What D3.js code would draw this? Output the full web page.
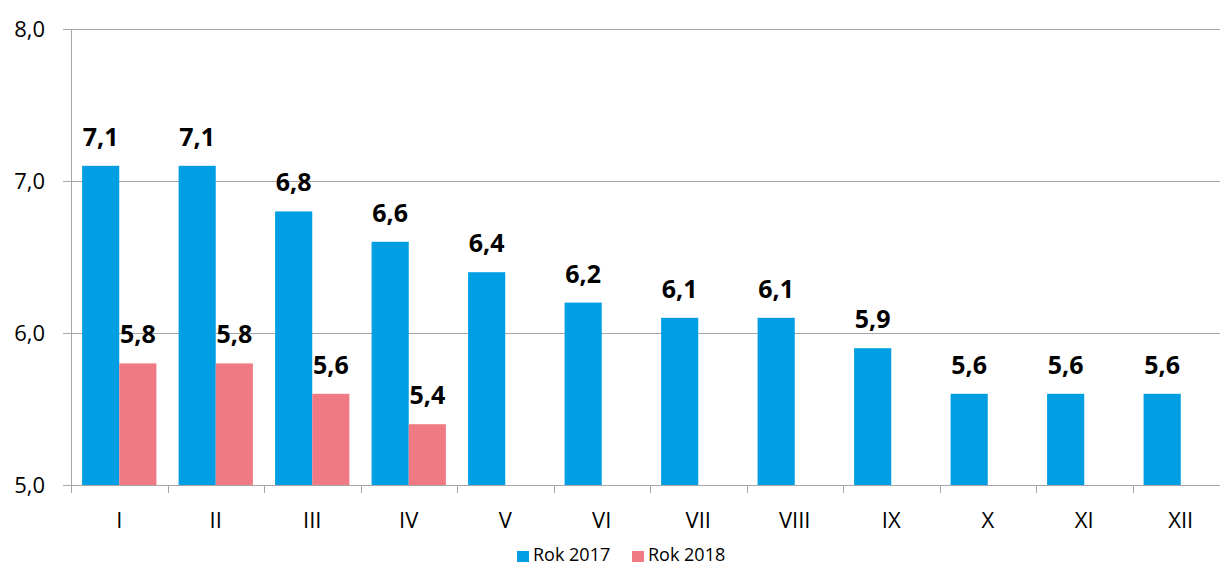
<!DOCTYPE html>
<html>
<head>
<meta charset="utf-8">
<script src="https://cdn.jsdelivr.net/npm/d3@7"></script>
<style>
  body { margin: 0; background: #fff; }
  text { font-family: "Open Sans", "DejaVu Sans", sans-serif; }
</style>
</head>
<body>
<div id="chart"></div>
<script>
// data
var months = ["I", "II", "III", "IV", "V", "VI", "VII", "VIII", "IX", "X", "XI", "XII"];
var rok2017 = [7.1, 7.1, 6.8, 6.6, 6.4, 6.2, 6.1, 6.1, 5.9, 5.6, 5.6, 5.6];
var rok2018 = [5.8, 5.8, 5.6, 5.4];
var seriesNames = ["Rok 2017", "Rok 2018"];
var yTicks = [5, 6, 7, 8];

var width = 1220, height = 568;
var colors = ["#009fe3", "#f07a83"];

var svg = d3.select("#chart")
  .append("svg")
  .attr("width", width)
  .attr("height", height);

//scales
var xScale = d3.scaleBand()
  .domain(months)
  .range([71, 1229])
  .paddingInner(0.23)
  .paddingOuter(0.115);

var xSub = d3.scaleBand()
  .domain([0, 1])
  .range([0, xScale.bandwidth()]);

var yScale = d3.scaleLinear()
  .domain([5, 8])
  .range([485, 29]);

var fmt = function(v) { return d3.format(".1f")(v).replace(".", ","); };

// gridlines
svg.append("g")
  .selectAll("line")
  .data(yTicks)
  .enter()
  .append("line")
  .attr("x1", 63)
  .attr("x2", width)
  .attr("y1", d => yScale(d) + 0.5)
  .attr("y2", d => yScale(d) + 0.5)
  .attr("stroke", "#a6a6a6")
  .attr("stroke-width", 1);

// y axis labels
svg.append("g")
  .selectAll("text")
  .data(yTicks)
  .enter()
  .append("text")
  .attr("x", 45)
  .attr("y", d => yScale(d))
  .attr("dy", "0.36em")
  .attr("text-anchor", "end")
  .attr("font-size", 22)
  .attr("fill", "#000")
  .text(fmt);

// y axis line
svg.append("line")
  .attr("x1", 71.5).attr("x2", 71.5)
  .attr("y1", yScale(8)).attr("y2", yScale(5))
  .attr("stroke", "#a6a6a6");

// x ticks at category boundaries
var bounds = months.map(function(m, i) { return 71 + i * (1158 / 12); });
bounds.push(1229);
svg.append("g")
  .selectAll("line")
  .data(bounds)
  .enter()
  .append("line")
  .attr("x1", d => Math.round(d) + 0.5)
  .attr("x2", d => Math.round(d) + 0.5)
  .attr("y1", yScale(5))
  .attr("y2", yScale(5) + 8)
  .attr("stroke", "#a6a6a6");

// bars
var barData = [];
rok2017.forEach(function(v, i) { barData.push({m: months[i], s: 0, v: v}); });
rok2018.forEach(function(v, i) { barData.push({m: months[i], s: 1, v: v}); });

svg.append("g")
  .selectAll("rect")
  .data(barData)
  .enter()
  .append("rect")
  .attr("x", d => xScale(d.m) + xSub(d.s))
  .attr("y", d => yScale(d.v))
  .attr("width", xSub.bandwidth())
  .attr("height", d => yScale(5) - yScale(d.v))
  .attr("fill", d => colors[d.s]);

// value labels
svg.append("g")
  .selectAll("text")
  .data(barData)
  .enter()
  .append("text")
  .attr("x", d => xScale(d.m) + xSub(d.s) + xSub.bandwidth() / 2)
  .attr("y", d => yScale(d.v) - 20)
  .attr("text-anchor", "middle")
  .attr("font-size", 25)
  .attr("font-weight", "bold")
  .attr("fill", "#000")
  .text(d => fmt(d.v));

// x labels
svg.append("g")
  .selectAll("text")
  .data(months)
  .enter()
  .append("text")
  .attr("x", d => xScale(d) + xScale.bandwidth() / 2)
  .attr("y", 528)
  .attr("text-anchor", "middle")
  .attr("font-size", 22)
  .attr("fill", "#000")
  .text(d => d);

// legend
var legend = svg.append("g");
var legX = [517, 632];
seriesNames.forEach(function(name, i) {
  legend.append("rect")
    .attr("x", legX[i]).attr("y", 551)
    .attr("width", 12).attr("height", 11)
    .attr("fill", colors[i]);
  legend.append("text")
    .attr("x", legX[i] + 16).attr("y", 561)
    .attr("font-size", 18)
    .attr("fill", "#000")
    .text(name);
});
</script>
</body>
</html>
